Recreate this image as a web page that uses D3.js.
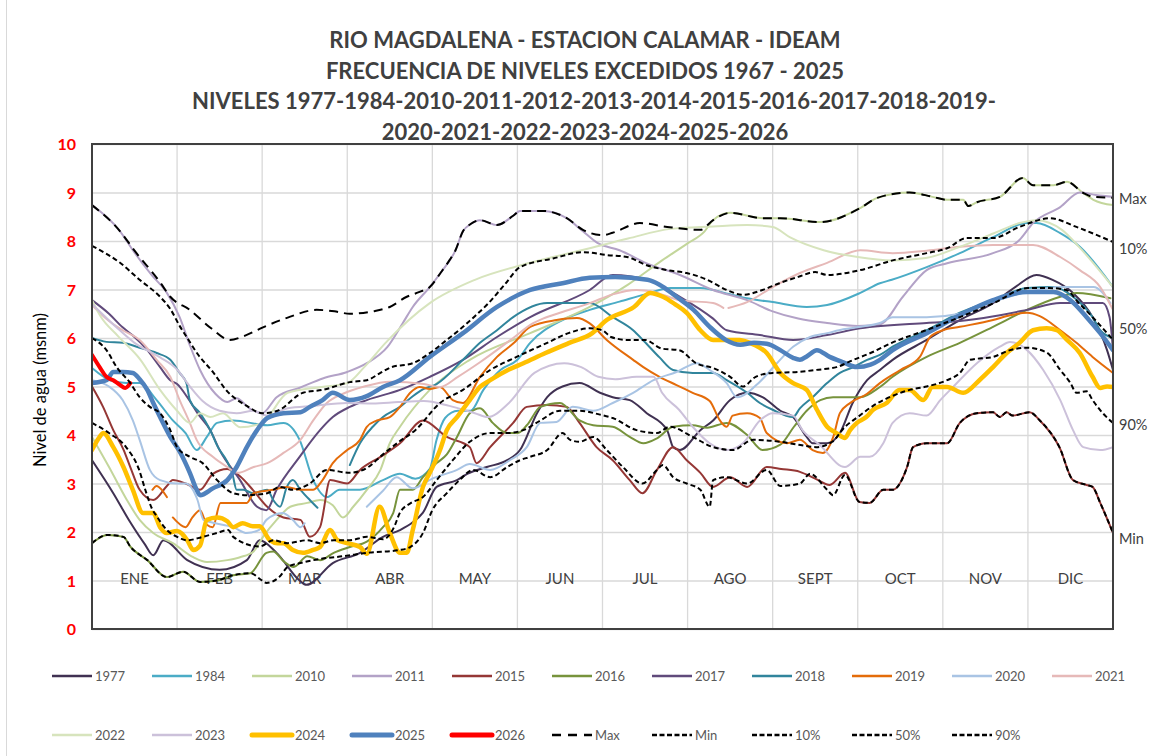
<!DOCTYPE html>
<html><head><meta charset="utf-8">
<script src="https://cdn.jsdelivr.net/npm/d3@7"></script>
<style>body{margin:0;background:#fff}svg{display:block}</style>
</head><body><svg id="c" width="1156" height="756"></svg>
<script>
// ---------------- DATA ----------------
const titleLines = ["RIO MAGDALENA - ESTACION CALAMAR - IDEAM","FRECUENCIA DE NIVELES EXCEDIDOS 1967 - 2025","NIVELES 1977-1984-2010-2011-2012-2013-2014-2015-2016-2017-2018-2019-","2020-2021-2022-2023-2024-2025-2026"];
const months = ["ENE","FEB","MAR","ABR","MAY","JUN","JUL","AGO","SEPT","OCT","NOV","DIC"];
const yTicks = [0,1,2,3,4,5,6,7,8,9,10];
const yTitle = "Nivel de agua (msnm)";

// each series: [month position (0-12), level (m)]
const s1977 = [[0,3.48],[0.25,2.8],[0.45,2.2],[0.62,1.75],[0.72,1.52],[0.84,1.83],[1.12,1.42],[1.5,1.22],[1.82,1.42],[1.97,1.83],[2.17,1.57],[2.44,1.0],[2.52,0.91],[2.83,1.36],[3.15,1.57],[3.42,1.9],[3.62,2.04],[3.77,2.2],[3.89,2.4],[4.05,2.93],[4.29,3.07],[4.41,3.2],[4.64,3.34],[4.88,3.48],[5.03,3.69],[5.23,4.45],[5.35,4.78],[5.53,5.0],[5.73,5.07],[5.97,4.87],[6.12,4.78],[6.32,4.72],[6.52,4.45],[6.76,4.1],[6.83,3.75],[6.91,3.69],[7.15,4.1],[7.3,4.3],[7.5,4.72],[7.7,4.87],[7.88,4.78],[8.09,4.5],[8.24,4.37],[8.4,3.96],[8.47,3.83],[8.64,3.83],[8.79,4.04],[8.94,4.66],[9.11,5.13],[9.26,5.34],[9.41,5.55],[9.81,5.96],[10.2,6.37],[10.59,6.72],[10.85,7.05],[11.1,7.3],[11.29,7.2],[11.53,6.93],[11.76,6.43],[11.93,5.75],[12,5.34]];
const s1984 = [[0,5.38],[0.21,5.13],[0.4,5.07],[0.56,5.07],[0.76,4.72],[0.95,4.3],[1.1,4.04],[1.23,3.69],[1.35,3.96],[1.47,4.25],[1.66,4.3],[2.06,4.2],[2.25,4.25],[2.44,3.9],[2.6,3.07],[2.76,2.72],[2.91,2.87],[3.15,2.87],[3.42,3.07],[3.62,3.2],[3.8,3.1],[3.97,3.3],[4.05,3.9],[4.15,4.35],[4.3,4.5],[4.45,4.5],[4.6,4.93],[4.8,5.34],[5.0,5.55],[5.15,5.9],[5.53,6.37],[5.85,6.58],[6.2,6.75],[6.5,6.9],[6.8,7.03],[7.15,7.03],[7.5,6.9],[7.7,6.82],[8.0,6.74],[8.4,6.64],[8.64,6.68],[9.03,6.93],[9.26,7.13],[9.4,7.2],[9.81,7.46],[10.2,7.75],[10.59,8.08],[10.99,8.37],[11.1,8.37],[11.38,8.16],[11.61,7.88],[12,7.05]];
const s2010 = [[0,3.96],[0.2,3.34],[0.41,2.66],[0.56,2.25],[0.72,1.98],[0.95,1.77],[1.19,1.48],[1.35,1.38],[1.59,1.42],[1.74,1.48],[1.9,1.6],[2.01,1.9],[2.17,2.25],[2.33,2.52],[2.53,2.6],[2.68,2.66],[2.83,2.55],[2.95,2.3],[3.07,2.52],[3.23,2.87],[3.39,3.28],[3.5,3.83],[3.62,4.17],[3.97,4.93],[4.44,5.55],[5.15,6.1],[5.85,6.64],[6.3,7.1],[6.7,7.6],[7.0,7.95],[7.2,8.2],[7.3,8.43],[7.5,8.58],[7.89,8.47],[8.09,8.47],[8.56,8.39],[9.03,8.68],[9.23,8.89],[9.61,9.0],[9.88,8.91],[10.05,8.85],[10.24,8.85],[10.3,8.72],[10.4,8.8],[10.67,8.91],[10.94,9.3],[11.06,9.15],[11.3,9.15],[11.46,9.22],[11.65,8.99],[11.77,8.85],[12,8.74]];
const s2011 = [[0,8.74],[0.33,8.2],[0.48,7.81],[0.7,7.3],[0.88,6.93],[1.03,6.43],[1.15,5.85],[1.27,5.34],[1.45,4.85],[1.59,4.68],[1.7,4.76],[1.85,4.55],[2.0,4.45],[2.17,4.78],[2.45,4.98],[2.72,5.17],[3.0,5.3],[3.23,5.48],[3.47,5.81],[3.65,6.3],[3.77,6.64],[3.97,7.05],[4.1,7.35],[4.27,7.8],[4.36,8.2],[4.45,8.35],[4.56,8.43],[4.76,8.33],[4.95,8.52],[5.03,8.62],[5.3,8.62],[5.58,8.47],[5.77,8.2],[5.94,7.96],[6.2,7.81],[6.52,7.54],[6.91,7.3],[7.3,6.99],[7.7,6.78],[8.0,6.55],[8.3,6.4],[8.64,6.31],[9.0,6.25],[9.26,6.28],[9.53,6.85],[9.81,7.4],[10.05,7.54],[10.59,7.75],[10.9,8.02],[11.06,8.37],[11.38,8.7],[11.61,9.0],[11.8,8.95],[12,8.91]];
const s2015 = [[0,5.0],[0.13,4.58],[0.25,4.1],[0.37,3.7],[0.45,3.34],[0.56,2.87],[0.72,2.66],[0.88,2.95],[0.95,3.07],[1.1,3.0],[1.27,2.87],[1.42,3.2],[1.59,3.3],[1.74,3.15],[1.89,2.87],[2.06,2.52],[2.25,2.3],[2.45,2.25],[2.56,1.9],[2.68,2.1],[2.8,3.07],[3.0,3.0],[3.15,3.28],[3.39,3.55],[3.62,3.83],[3.89,4.3],[4.17,3.96],[4.44,3.75],[4.52,3.42],[4.68,3.75],[4.95,4.25],[5.11,4.58],[5.35,4.62],[5.58,4.58],[5.73,4.25],[5.93,3.75],[6.12,3.48],[6.32,3.07],[6.47,2.8],[6.64,3.28],[6.83,3.75],[6.99,3.48],[7.15,3.22],[7.3,2.93],[7.5,3.13],[7.7,2.93],[7.93,3.34],[8.1,3.3],[8.32,3.24],[8.5,3.1],[8.67,2.97],[8.85,3.22],[9.02,2.62],[9.14,2.6],[9.3,2.87],[9.41,2.87],[9.58,3.34],[9.65,3.75],[9.81,3.83],[10.05,3.83],[10.2,4.25],[10.4,4.45],[10.59,4.47],[10.67,4.37],[10.75,4.47],[10.82,4.4],[11.02,4.47],[11.14,4.3],[11.37,3.75],[11.53,3.07],[11.69,2.97],[11.76,2.93],[11.85,2.6],[12,1.98]];
const s2016 = [[0,1.77],[0.18,1.94],[0.37,1.9],[0.45,1.7],[0.65,1.42],[0.88,1.07],[1.07,1.18],[1.27,0.97],[1.47,1.0],[1.66,1.11],[1.86,1.15],[2.05,1.57],[2.13,1.6],[2.25,1.4],[2.37,1.28],[2.53,1.5],[2.68,1.42],[2.84,1.57],[3.03,1.69],[3.23,1.8],[3.42,2.1],[3.54,2.39],[3.62,2.87],[3.77,2.87],[3.89,3.13],[4.05,3.42],[4.17,3.6],[4.29,3.96],[4.44,4.45],[4.56,4.55],[4.71,4.25],[4.88,4.04],[5.0,4.04],[5.11,4.2],[5.27,4.58],[5.5,4.66],[5.73,4.3],[5.89,4.2],[6.12,4.17],[6.32,3.96],[6.48,3.83],[6.64,3.93],[6.83,4.17],[7.06,4.2],[7.23,4.15],[7.46,4.25],[7.7,4.0],[7.88,3.69],[8.09,3.8],[8.25,4.17],[8.4,4.5],[8.56,4.72],[8.71,4.78],[9.03,4.78],[9.26,4.99],[9.41,5.2],[9.81,5.61],[10.2,5.9],[10.59,6.23],[10.99,6.58],[11.38,6.85],[11.57,6.93],[11.97,6.82]];
const s2017 = [[0,6.78],[0.2,6.5],[0.36,6.22],[0.48,6.05],[0.65,5.75],[0.8,5.4],[0.92,5.13],[1.0,5.05],[1.12,4.78],[1.24,4.45],[1.39,4.1],[1.5,3.69],[1.74,3.07],[1.94,2.52],[2.05,2.45],[2.17,2.87],[2.44,3.55],[2.68,4.1],[2.83,4.37],[3.03,4.58],[3.23,4.72],[3.62,4.93],[3.97,5.2],[4.36,5.55],[4.76,6.02],[5.15,6.43],[5.85,6.99],[6.12,7.3],[6.52,7.2],[6.91,6.85],[7.3,6.4],[7.46,6.16],[7.85,6.06],[8.24,5.96],[8.64,6.06],[9.03,6.2],[9.81,6.31],[10.2,6.35],[10.6,6.45],[10.99,6.58],[11.38,6.72],[11.88,6.72],[11.96,6.43],[12,5.75]];
const s2018 = [[0,6.0],[0.17,5.92],[0.36,5.9],[0.56,5.8],[0.76,5.69],[0.92,5.55],[1.03,5.28],[1.11,5.07],[1.15,4.72],[1.27,4.45],[1.39,4.1],[1.48,3.75],[1.59,3.45],[1.65,3.2],[1.7,2.87],[1.78,2.87],[1.89,2.8],[2.06,2.87],[2.13,2.66],[2.21,2.52],[2.29,2.93],[2.36,3.07],[2.45,2.87],[2.56,2.66],[2.65,2.5],[2.7,null],[3.03,3.38],[3.15,3.83],[3.3,4.17],[3.42,4.37],[3.62,4.58],[3.77,4.8],[3.9,4.95],[4.05,5.05],[4.36,5.55],[4.56,5.9],[4.76,6.16],[4.95,6.43],[5.35,6.72],[5.85,6.72],[6.12,6.43],[6.36,6.16],[6.48,5.95],[6.67,5.6],[6.83,5.34],[7.06,5.28],[7.3,5.28],[7.46,5.13],[7.7,4.87],[7.85,4.66],[8.0,4.52],[8.24,4.37],[8.32,4.55],[8.47,4.78],[8.64,5.07],[8.79,5.28],[8.95,5.4],[9.11,5.55],[9.26,5.65],[9.41,5.82],[9.81,6.16],[10.2,6.52],[10.59,6.78],[10.99,7.03],[11.3,7.05],[11.53,6.85],[11.76,6.43],[11.85,6.16],[12,6.0]];
const s2019 = [[0.71,2.87],[0.76,2.95],[0.82,2.87],[0.88,2.72],[0.9,null],[0.95,2.3],[1.1,2.1],[1.18,2.3],[1.27,2.45],[1.35,2.15],[1.42,2.1],[1.51,2.6],[1.66,2.6],[1.82,2.6],[1.9,2.8],[2.13,2.87],[2.29,2.93],[2.45,2.87],[2.6,2.87],[2.71,3.07],[2.83,3.42],[3.0,3.69],[3.15,3.9],[3.23,4.17],[3.35,4.3],[3.5,4.37],[3.62,4.58],[3.74,4.87],[3.85,4.99],[3.97,4.95],[4.09,4.99],[4.24,4.72],[4.36,4.66],[4.56,5.2],[4.76,5.61],[4.96,5.9],[5.15,6.23],[5.46,6.37],[5.7,6.41],[5.85,6.3],[6.05,5.96],[6.36,5.55],[6.48,5.4],[6.67,5.2],[6.87,5.03],[7.06,4.87],[7.26,4.7],[7.38,4.3],[7.46,4.17],[7.53,4.4],[7.7,4.45],[7.85,4.35],[7.93,4.04],[8.17,3.83],[8.32,3.9],[8.47,3.69],[8.59,3.63],[8.71,3.95],[8.79,4.45],[8.91,4.66],[9.11,4.85],[9.26,5.07],[9.5,5.34],[9.73,5.61],[9.85,6.02],[10.0,6.16],[10.2,6.23],[10.59,6.37],[10.79,6.47],[10.99,6.52],[11.14,6.45],[11.38,6.16],[11.57,5.9],[11.76,5.61],[12,5.28]];
const s2020 = [[0,5.13],[0.2,5.0],[0.36,4.72],[0.48,4.3],[0.56,3.9],[0.68,3.28],[0.8,3.07],[1.0,3.0],[1.1,3.0],[1.24,2.66],[1.31,2.25],[1.4,2.2],[1.66,2.1],[1.82,1.98],[1.97,2.05],[2.05,2.25],[2.24,2.39],[2.36,2.25],[2.45,2.1],[2.5,2.18],[2.6,null],[3.23,2.52],[3.42,2.85],[3.58,3.13],[3.77,2.9],[4.0,3.1],[4.29,3.28],[4.44,3.4],[4.68,3.28],[4.91,3.48],[5.11,3.75],[5.27,4.25],[5.46,4.27],[5.65,4.58],[5.89,4.5],[6.12,4.66],[6.36,4.87],[6.6,5.13],[6.87,5.3],[7.11,5.48],[7.26,5.34],[7.46,5.07],[7.58,4.78],[7.85,5.1],[8.05,5.48],[8.24,5.82],[8.44,6.02],[8.64,6.1],[8.83,6.18],[9.03,6.23],[9.26,6.31],[9.41,6.43],[9.81,6.43],[10.2,6.5],[10.59,6.75],[10.99,6.95],[11.38,7.05],[11.77,7.05],[11.97,6.72]];
const s2021 = [[0,6.68],[0.2,6.35],[0.36,6.16],[0.56,5.96],[0.76,5.55],[0.92,5.2],[1.03,4.72],[1.15,4.25],[1.23,3.9],[1.42,3.55],[1.59,3.34],[1.71,3.22],[1.9,3.34],[2.06,3.42],[2.25,3.63],[2.45,3.9],[2.6,4.3],[2.76,4.66],[2.95,4.85],[3.2,5.0],[3.5,5.1],[3.9,5.05],[4.09,4.99],[4.3,5.2],[4.56,5.5],[4.95,6.0],[5.18,6.3],[5.3,6.4],[5.5,6.52],[5.85,6.72],[6.12,6.9],[6.4,6.99],[6.6,6.95],[6.91,6.78],[7.3,6.72],[7.42,6.62],[7.45,null],[7.48,6.62],[7.7,6.74],[8.0,7.05],[8.32,7.34],[8.64,7.55],[9.03,7.81],[9.41,7.75],[9.81,7.8],[10.2,7.88],[10.59,7.92],[11.06,7.92],[11.38,7.67],[11.61,7.4],[11.85,7.05],[12,6.58]];
const s2022 = [[0,6.78],[0.1,6.45],[0.3,6.05],[0.57,5.55],[0.8,4.93],[1.0,4.5],[1.15,4.25],[1.27,4.45],[1.39,4.37],[1.54,4.45],[1.74,4.16],[2.0,4.25],[2.3,4.87],[2.7,4.99],[3.0,5.07],[3.2,5.4],[3.45,5.9],[3.97,6.72],[4.5,7.2],[5.15,7.55],[5.85,7.85],[6.3,8.05],[6.8,8.25],[7.3,8.3],[7.7,8.33],[8.0,8.29],[8.2,8.08],[8.6,7.81],[9.0,7.67],[9.4,7.6],[9.8,7.65],[10.2,7.88],[10.6,8.16],[10.9,8.37],[11.1,8.43],[11.4,8.23],[11.6,7.88],[12,7.05]];
const s2023 = [[0,6.7],[0.3,6.2],[0.5,5.9],[0.8,5.6],[1.0,5.35],[1.15,5.0],[1.3,4.7],[1.5,4.5],[1.7,4.45],[1.9,4.5],[2.05,4.4],[2.3,4.55],[2.6,4.6],[3.0,4.66],[3.3,4.65],[3.6,4.68],[3.9,4.7],[4.2,4.6],[4.5,4.45],[4.65,4.37],[4.9,4.66],[5.2,5.28],[5.55,5.48],[5.75,5.4],[5.95,5.2],[6.15,5.15],[6.4,5.2],[6.6,5.2],[6.7,4.87],[6.9,4.52],[7.06,4.17],[7.26,3.83],[7.46,3.69],[7.65,3.83],[7.85,4.3],[8.0,4.45],[8.24,4.4],[8.35,4.1],[8.55,3.8],[8.85,3.34],[9.03,3.55],[9.14,3.55],[9.3,3.83],[9.41,4.25],[9.61,4.45],[9.81,4.4],[9.97,4.72],[10.12,4.99],[10.4,5.48],[10.67,5.82],[10.79,5.92],[10.99,5.75],[11.18,5.34],[11.38,4.72],[11.53,4.1],[11.65,3.75],[11.85,3.69],[12,3.75]];
const s2024 = [[0,3.69],[0.09,3.96],[0.13,4.04],[0.25,3.75],[0.37,3.34],[0.48,2.87],[0.6,2.39],[0.72,2.39],[0.8,2.1],[0.88,1.98],[1.0,2.02],[1.12,1.83],[1.19,1.63],[1.27,1.72],[1.35,2.25],[1.47,2.3],[1.59,2.22],[1.66,2.1],[1.77,2.18],[1.89,2.12],[1.97,2.12],[2.09,1.83],[2.18,1.77],[2.25,1.77],[2.36,1.63],[2.48,1.57],[2.6,1.63],[2.68,1.69],[2.8,2.04],[2.88,1.84],[3.0,1.77],[3.15,1.69],[3.23,1.55],[3.38,2.52],[3.5,1.98],[3.62,1.57],[3.7,1.57],[3.77,2.04],[3.89,2.93],[3.97,3.22],[4.09,3.69],[4.17,4.1],[4.29,4.37],[4.44,4.72],[4.56,4.99],[4.68,5.13],[4.9,5.35],[5.07,5.48],[5.33,5.69],[5.61,5.9],[5.88,6.1],[6.05,6.37],[6.37,6.64],[6.56,6.93],[6.71,6.85],[6.85,6.7],[6.99,6.52],[7.15,6.16],[7.3,5.96],[7.61,5.96],[7.73,5.9],[7.93,5.69],[8.09,5.28],[8.24,5.07],[8.4,4.93],[8.52,4.52],[8.64,4.17],[8.75,4.04],[8.85,3.94],[8.91,4.1],[8.99,4.25],[9.1,4.37],[9.18,4.52],[9.34,4.66],[9.49,4.93],[9.61,4.93],[9.77,4.72],[9.88,4.99],[10.05,4.99],[10.24,4.87],[10.43,5.13],[10.59,5.4],[10.75,5.69],[10.9,5.9],[11.06,6.16],[11.22,6.2],[11.34,6.16],[11.46,5.96],[11.61,5.69],[11.76,5.2],[11.85,4.97],[11.93,5.0],[12,4.99]];
const s2025 = [[0,5.07],[0.17,5.13],[0.25,5.3],[0.36,5.3],[0.48,5.28],[0.56,5.15],[0.65,4.93],[0.72,4.66],[0.8,4.37],[0.92,3.96],[1.04,3.63],[1.15,3.22],[1.23,2.87],[1.27,2.76],[1.42,2.9],[1.59,3.07],[1.7,3.34],[1.82,3.75],[1.94,4.1],[2.06,4.35],[2.25,4.45],[2.45,4.47],[2.56,4.58],[2.71,4.72],[2.83,4.87],[3.03,4.72],[3.23,4.8],[3.42,4.99],[3.62,5.13],[3.97,5.61],[4.36,6.1],[4.76,6.64],[5.15,6.99],[5.53,7.13],[5.85,7.24],[6.15,7.26],[6.53,7.2],[6.67,7.1],[6.87,6.85],[7.07,6.58],[7.26,6.23],[7.45,5.96],[7.62,5.86],[7.78,5.9],[7.93,5.88],[8.09,5.75],[8.24,5.59],[8.32,5.55],[8.4,5.62],[8.52,5.75],[8.67,5.61],[8.83,5.5],[8.99,5.4],[9.15,5.45],[9.26,5.55],[9.41,5.75],[9.81,6.1],[10.2,6.47],[10.59,6.78],[10.99,6.95],[11.3,6.95],[11.5,6.78],[11.69,6.43],[11.85,6.1],[12,5.75]];
const s2026 = [[0,5.65],[0.09,5.4],[0.17,5.2],[0.25,5.13],[0.33,5.03],[0.39,4.97],[0.45,5.07]];
const sMax = [[0,8.74],[0.33,8.2],[0.5,7.8],[0.8,7.15],[0.92,6.85],[1.15,6.58],[1.4,6.2],[1.62,5.96],[1.8,6.05],[2.01,6.22],[2.3,6.42],[2.64,6.58],[2.85,6.55],[3.03,6.5],[3.3,6.55],[3.5,6.64],[3.7,6.85],[3.85,6.95],[3.97,7.05],[4.1,7.35],[4.2,7.6],[4.27,7.8],[4.36,8.2],[4.45,8.35],[4.56,8.43],[4.76,8.33],[4.95,8.52],[5.03,8.62],[5.3,8.62],[5.58,8.47],[5.77,8.23],[6.01,8.12],[6.12,8.17],[6.44,8.37],[6.76,8.29],[7.15,8.23],[7.3,8.43],[7.5,8.58],[7.89,8.47],[8.09,8.47],[8.56,8.39],[9.03,8.68],[9.23,8.89],[9.61,9.0],[9.88,8.91],[10.05,8.85],[10.24,8.85],[10.3,8.72],[10.4,8.8],[10.67,8.91],[10.94,9.3],[11.06,9.15],[11.3,9.15],[11.46,9.22],[11.65,8.99],[11.77,8.91],[12,8.89]];
const sMin = [[0,1.77],[0.18,1.94],[0.37,1.9],[0.45,1.7],[0.65,1.42],[0.88,1.07],[1.07,1.18],[1.27,0.97],[1.47,1.0],[1.66,1.11],[1.86,1.15],[2.0,1.0],[2.05,0.95],[2.2,1.07],[2.3,1.28],[2.45,1.36],[2.7,1.45],[2.95,1.5],[3.23,1.57],[3.62,1.63],[3.74,1.69],[3.89,1.98],[4.0,2.45],[4.17,2.8],[4.32,3.07],[4.48,3.28],[4.68,3.13],[4.88,3.34],[5.03,3.48],[5.15,3.55],[5.35,3.69],[5.53,4.04],[5.62,3.9],[5.73,3.86],[5.89,3.96],[6.05,3.69],[6.24,3.34],[6.47,3.0],[6.64,3.28],[6.71,3.38],[6.83,3.13],[6.99,3.0],[7.15,2.87],[7.26,2.52],[7.3,3.07],[7.46,3.13],[7.7,3.0],[7.93,3.28],[8.09,2.95],[8.32,3.0],[8.44,3.2],[8.64,2.87],[8.71,2.76],[8.85,3.18],[9.02,2.62],[9.14,2.6],[9.3,2.87],[9.41,2.87],[9.58,3.34],[9.65,3.75],[9.81,3.83],[10.05,3.83],[10.2,4.25],[10.4,4.45],[10.59,4.47],[10.67,4.37],[10.75,4.47],[10.82,4.4],[11.02,4.47],[11.14,4.3],[11.37,3.75],[11.53,3.07],[11.69,2.97],[11.76,2.93],[11.85,2.6],[12,1.98]];
const s10 = [[0,7.9],[0.33,7.55],[0.56,7.2],[0.8,6.85],[0.92,6.6],[1.03,6.25],[1.12,6.0],[1.25,5.65],[1.42,5.3],[1.59,4.9],[1.82,4.6],[2.0,4.45],[2.18,4.5],[2.48,4.87],[2.71,4.93],[3.03,5.09],[3.23,5.13],[3.39,5.28],[3.52,5.4],[3.77,5.48],[3.97,5.69],[4.17,5.96],[4.36,6.23],[4.5,6.45],[4.65,6.7],[4.85,7.1],[5.03,7.46],[5.42,7.64],[5.77,7.77],[6.05,7.71],[6.29,7.67],[6.52,7.5],[6.76,7.4],[6.99,7.34],[7.23,7.2],[7.46,6.99],[7.65,6.89],[7.88,6.99],[8.08,7.13],[8.3,7.26],[8.5,7.36],[8.64,7.3],[9.03,7.4],[9.41,7.6],[9.81,7.75],[10.05,7.85],[10.28,8.06],[10.59,8.06],[10.9,8.29],[11.26,8.47],[11.57,8.29],[12,7.98]];
const s50 = [[0,6.0],[0.17,5.75],[0.29,5.4],[0.45,5.07],[0.56,4.78],[0.68,4.58],[0.8,4.45],[0.92,4.1],[1.0,3.75],[1.15,3.55],[1.3,3.42],[1.47,3.07],[1.66,2.8],[1.82,2.76],[2.06,2.8],[2.21,2.93],[2.36,2.87],[2.56,3.0],[2.76,3.28],[3.03,3.22],[3.23,3.32],[3.42,3.6],[3.6,3.85],[3.8,4.1],[4.09,4.66],[4.36,4.93],[4.68,5.34],[4.99,5.61],[5.35,5.9],[5.6,6.1],[5.85,6.2],[6.0,6.16],[6.1,6.02],[6.3,5.96],[6.5,5.96],[6.7,5.78],[6.9,5.75],[7.1,5.48],[7.3,5.38],[7.5,5.2],[7.65,5.0],[7.8,5.2],[8.0,5.28],[8.3,5.3],[8.5,5.34],[8.75,5.4],[8.95,5.55],[9.15,5.69],[9.4,5.9],[9.8,6.16],[10.2,6.43],[10.6,6.72],[11.0,7.03],[11.25,7.03],[11.45,6.99],[11.6,6.72],[11.76,6.43],[11.93,6.1],[12,5.96]];
const s90 = [[0,4.25],[0.2,4.04],[0.4,3.75],[0.55,3.3],[0.63,2.85],[0.7,2.5],[0.77,2.3],[0.88,2.04],[1.0,1.9],[1.12,1.83],[1.3,1.9],[1.47,1.98],[1.6,2.04],[1.66,1.9],[1.97,1.7],[2.13,1.83],[2.3,1.77],[2.53,1.83],[2.68,1.77],[2.84,1.83],[3.03,1.83],[3.23,1.9],[3.42,1.85],[3.55,2.1],[3.62,2.4],[3.75,2.6],[3.89,2.72],[4.05,3.07],[4.24,3.48],[4.44,3.86],[4.68,4.04],[4.88,4.04],[5.07,4.1],[5.27,4.3],[5.5,4.5],[5.73,4.5],[5.97,4.42],[6.12,4.35],[6.4,4.1],[6.64,4.04],[6.79,4.17],[7.06,3.96],[7.3,3.75],[7.53,3.69],[7.77,3.9],[8.09,3.86],[8.3,3.8],[8.51,3.75],[8.7,3.86],[8.85,4.17],[9.0,4.37],[9.18,4.6],[9.4,4.8],[9.61,4.93],[9.81,5.0],[10.05,5.13],[10.2,5.28],[10.32,5.55],[10.59,5.61],[10.79,5.75],[10.99,5.8],[11.22,5.7],[11.38,5.34],[11.5,5.07],[11.57,4.87],[11.69,4.9],[11.76,4.72],[11.88,4.45],[12,4.25]];

// series config (name, data, style)
const seriesList = [
  {name:"1977", data:s1977, color:"#403152", w:2},
  {name:"1984", data:s1984, color:"#4BACC6", w:2},
  {name:"2010", data:s2010, color:"#C3D69B", w:2},
  {name:"2011", data:s2011, color:"#B3A2C7", w:2},
  {name:"2015", data:s2015, color:"#953735", w:2},
  {name:"2016", data:s2016, color:"#77933C", w:2},
  {name:"2017", data:s2017, color:"#604A7B", w:2},
  {name:"2018", data:s2018, color:"#31859C", w:2},
  {name:"2019", data:s2019, color:"#E46C0A", w:2},
  {name:"2020", data:s2020, color:"#A9C4E4", w:2},
  {name:"2021", data:s2021, color:"#E6B9B8", w:2},
  {name:"2022", data:s2022, color:"#D7E4BD", w:2},
  {name:"2023", data:s2023, color:"#CCC1DA", w:2},
  {name:"2024", data:s2024, color:"#FFC000", w:4.5},
  {name:"2025", data:s2025, color:"#4F81BD", w:4.5},
  {name:"2026", data:s2026, color:"#FF0000", w:4},
  {name:"Max", data:sMax, color:"#000", w:2, dash:"9,6"},
  {name:"Min", data:sMin, color:"#000", w:2, dash:"5,3"},
  {name:"10%", data:s10, color:"#000", w:2, dash:"5,3"},
  {name:"50%", data:s50, color:"#000", w:2, dash:"5,3"},
  {name:"90%", data:s90, color:"#000", w:2, dash:"5,3"}
];
const rightLabels = [{name:"Max",data:sMax,dy:1},{name:"10%",data:s10,dy:7},{name:"50%",data:s50,dy:-11},{name:"90%",data:s90,dy:2},{name:"Min",data:sMin,dy:6}];

// ---------------- DRAW ----------------
const svg = d3.select("#c");
const L=92, R=1113, T=144, B=629;
const x = d3.scaleLinear().domain([0,12]).range([L,R]);
const y = d3.scaleLinear().domain([0,10]).range([B,T]);
const font = "Lato, 'Open Sans', sans-serif";

svg.append("rect").attr("width",1156).attr("height",756).attr("fill","#fff");
svg.append("line").attr("x1",6.5).attr("x2",6.5).attr("y1",0).attr("y2",756).attr("stroke","#d9d9d9");

// title
svg.append("g").selectAll("text").data(titleLines).join("text")
  .attr("x",(d,i)=>i===2?594:585).attr("y",(d,i)=>48+i*30.5).attr("text-anchor","middle")
  .attr("font-family",font).attr("font-weight","bold").attr("font-size",22).attr("fill","#404040").text(d=>d);

// grid
const g = svg.append("g");
g.selectAll(".hy").data(yTicks).join("line").attr("x1",L).attr("x2",R)
  .attr("y1",d=>y(d)+0.5).attr("y2",d=>y(d)+0.5).attr("stroke","#d9d9d9").attr("stroke-width",1.3);
g.selectAll(".vx").data(d3.range(1,12)).join("line").attr("y1",T).attr("y2",B)
  .attr("x1",d=>x(d)).attr("x2",d=>x(d)).attr("stroke","#d9d9d9").attr("stroke-width",1.3);

// y axis labels
svg.append("g").selectAll("text").data(yTicks).join("text")
  .attr("x",76).attr("y",d=>y(d)+6).attr("text-anchor","end")
  .attr("font-family",font).attr("font-weight","bold").attr("font-size",16).attr("fill","#FF0000").text(d=>d);
svg.append("text").attr("transform","translate(46,390) rotate(-90)").attr("text-anchor","middle")
  .attr("font-family",font).attr("font-size",16.5).attr("fill","#000").text(yTitle);

// month labels
svg.append("g").selectAll("text").data(months).join("text")
  .attr("x",(d,i)=>x(i+0.5)).attr("y",584).attr("text-anchor","middle")
  .attr("font-family",font).attr("font-size",15).attr("fill","#404040").text(d=>d);

// lines
svg.append("clipPath").attr("id","pc").append("rect").attr("x",L).attr("y",T).attr("width",R-L).attr("height",B-T);
const line = d3.line().defined(d=>d[1]!=null).x(d=>x(d[0])).y(d=>y(d[1])).curve(d3.curveMonotoneX);
const lg = svg.append("g").attr("clip-path","url(#pc)");
lg.selectAll("path").data(seriesList).join("path")
  .attr("d",d=>line(d.data)).attr("fill","none")
  .attr("stroke",d=>d.color).attr("stroke-width",d=>d.w)
  .attr("stroke-dasharray",d=>d.dash||null)
  .attr("stroke-linejoin","round").attr("stroke-linecap",d=>d.dash?"butt":"round");

// plot border
svg.append("rect").attr("x",L).attr("y",T).attr("width",R-L).attr("height",B-T)
  .attr("fill","none").attr("stroke","#404040").attr("stroke-width",2);

// right labels
svg.append("g").selectAll("text").data(rightLabels).join("text")
  .attr("x",R+6).attr("y",d=>y(d.data[d.data.length-1][1])+5+d.dy)
  .attr("font-family",font).attr("font-size",14.5).attr("fill","#404040").text(d=>d.name);

// legend
const leg = svg.append("g");
seriesList.forEach((s,i)=>{
  const row = i<11?0:1, col = i<11?i:i-11;
  const lx = 52 + col*100, ly = row===0?676:735;
  leg.append("line").attr("x1",lx).attr("x2",lx+40).attr("y1",ly).attr("y2",ly)
    .attr("stroke",s.color).attr("stroke-width",s.w>3?5:2.4)
    .attr("stroke-dasharray",s.dash? (s.name==="Max"?"9,7":"5,2.5"):null)
    .attr("stroke-linecap",s.w>3?"round":"butt");
  leg.append("text").attr("x",lx+43).attr("y",ly+4.5)
    .attr("font-family",font).attr("font-size",13).attr("fill","#595959").text(s.name);
});
</script></body></html>
